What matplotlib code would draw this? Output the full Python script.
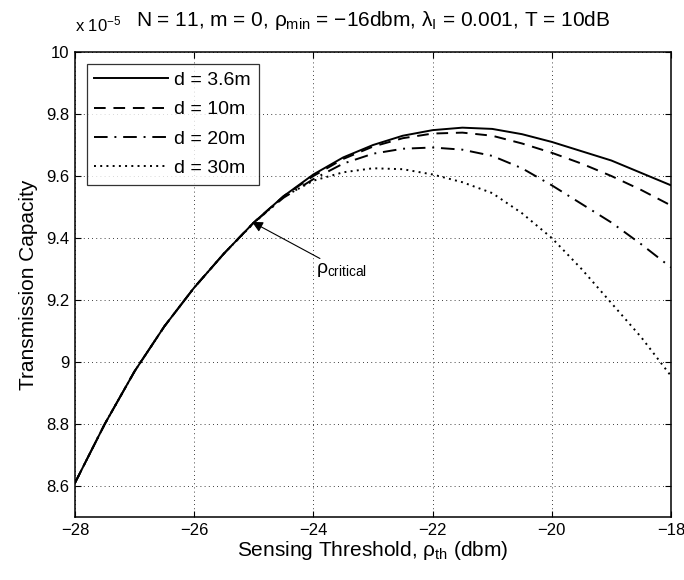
import numpy as np
import matplotlib
matplotlib.use('Agg')
import matplotlib.pyplot as plt
from matplotlib.ticker import FuncFormatter

plt.rcParams['font.family'] = ['Liberation Sans', 'DejaVu Sans']
plt.rcParams['mathtext.fontset'] = 'custom'
plt.rcParams['mathtext.rm'] = 'Liberation Sans'
plt.rcParams['mathtext.it'] = 'Liberation Sans'

# sensing threshold (dbm)
rho_th = [-28, -27.5, -27, -26.5, -26, -25.5, -25, -24.5, -24, -23.5, -23,
          -22.5, -22, -21.5, -21, -20.5, -20, -19.5, -19, -18.5, -18]

# transmission capacity (x 1e-5)
tc_d36 = [8.61, 8.80, 8.97, 9.115, 9.24, 9.35, 9.45, 9.535, 9.605, 9.66, 9.70,
          9.73, 9.748, 9.756, 9.752, 9.735, 9.71, 9.68, 9.65, 9.61, 9.57]
tc_d10 = [8.61, 8.80, 8.97, 9.115, 9.24, 9.35, 9.45, 9.535, 9.60, 9.655, 9.695,
          9.722, 9.737, 9.74, 9.73, 9.705, 9.675, 9.64, 9.60, 9.555, 9.505]
tc_d20 = [8.61, 8.80, 8.97, 9.115, 9.24, 9.35, 9.45, 9.53, 9.59, 9.64, 9.672,
          9.688, 9.692, 9.685, 9.665, 9.625, 9.57, 9.51, 9.45, 9.38, 9.305]
tc_d30 = [8.61, 8.80, 8.97, 9.115, 9.24, 9.35, 9.448, 9.533, 9.585, 9.612, 9.625,
          9.622, 9.605, 9.58, 9.545, 9.48, 9.40, 9.30, 9.19, 9.08, 8.955]

labels = ['d = 3.6m', 'd = 10m', 'd = 20m', 'd = 30m']
styles = ['-', (0, (6, 4)), (0, (7, 3.5, 1, 3.5)), (0, (1, 2.2))]

fig = plt.figure(figsize=(6.84, 5.80), dpi=100)
ax = fig.add_axes([0.1096, 0.1086, 0.8714, 0.8017])

for ys, lab, ls in zip([tc_d36, tc_d10, tc_d20, tc_d30], labels, styles):
    ax.plot(rho_th, ys, color='k', linestyle=ls, linewidth=1.4, label=lab)

ax.set_xlim(-28, -18)
ax.set_ylim(8.5, 10)
ax.set_xticks(np.arange(-28, -17, 2))
ax.set_yticks(np.arange(8.6, 10.01, 0.2))
ax.yaxis.set_major_formatter(FuncFormatter(lambda v, p: '%g' % round(v, 2)))
ax.xaxis.set_major_formatter(FuncFormatter(lambda v, p: ('%g' % v).replace('-', '\u2212')))
ax.tick_params(direction='in', top=True, right=True, labelsize=12, length=4, pad=4)
ax.grid(True, linestyle=(0, (1, 4)), color='k', linewidth=0.6)
for s in ax.spines.values():
    s.set_linewidth(1.1)

ax.set_xlabel(r'Sensing Threshold, $\rho_{\mathrm{th}}$ (dbm)', fontsize=15, labelpad=1)
ax.set_ylabel('Transmission Capacity', fontsize=15, labelpad=6)
ax.set_title(r'N = 11, m = 0, $\rho_{\mathrm{min}}$ = $-$16dbm, $\lambda_{\mathrm{I}}$ = 0.001, T = 10dB',
             fontsize=15, pad=19)
fig.text(0.1096, 0.945, r'x 10$^{-5}$', fontsize=12, ha='left', va='baseline')

ax.annotate(r'$\rho_{\mathrm{critical}}$', xy=(-25.03, 9.452), xytext=(-23.95, 9.325),
            fontsize=14, ha='left', va='top',
            arrowprops=dict(arrowstyle='-|>', color='k', lw=0.8, mutation_scale=16,
                            shrinkA=0, shrinkB=0))

leg = ax.legend(loc='upper left', fontsize=14, handlelength=3.8, frameon=True,
                fancybox=False, edgecolor='k', borderaxespad=0.6, labelspacing=0.6,
                handletextpad=0.3, borderpad=0.4)
leg.get_frame().set_linewidth(0.9)

fig.savefig('out.png', dpi=100)
